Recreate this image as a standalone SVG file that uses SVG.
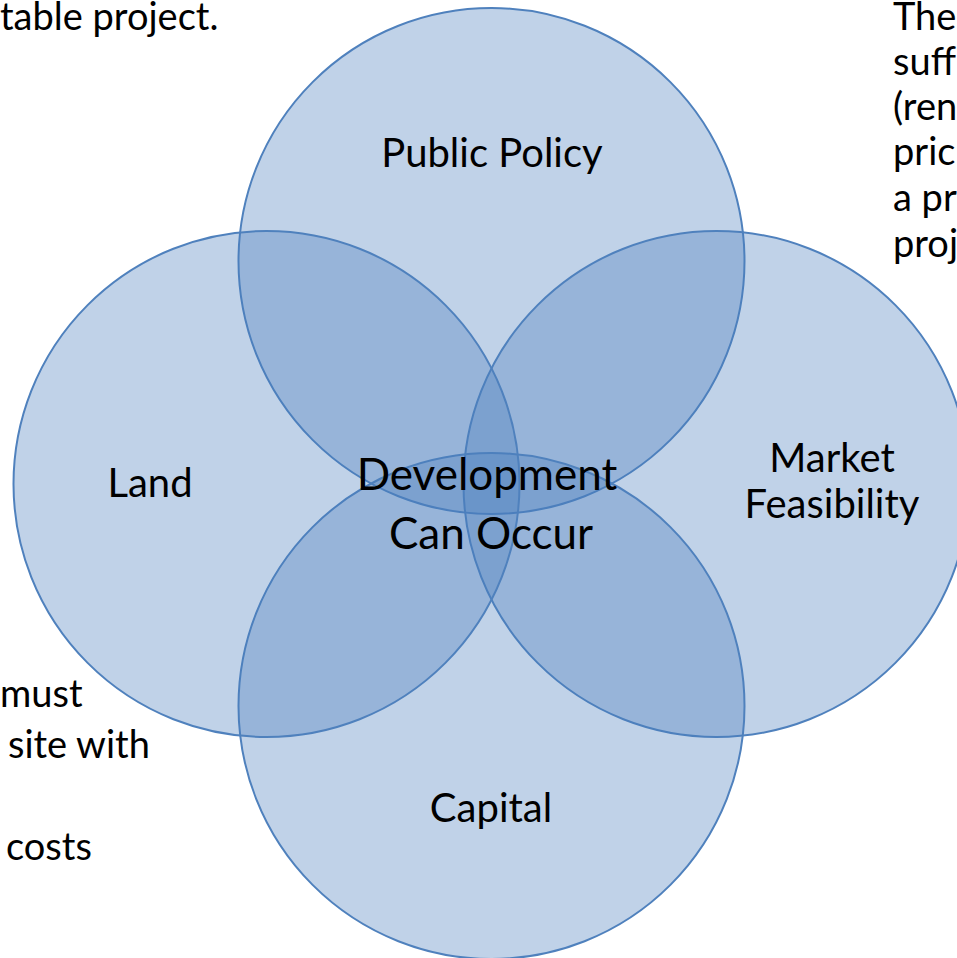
<svg xmlns="http://www.w3.org/2000/svg" width="957" height="958" viewBox="0 0 957 958">
<style>
.c{fill:rgb(75,126,189);fill-opacity:0.35;stroke:#4F81BD;stroke-width:2}
text{font-family:Lato,"Liberation Sans",sans-serif;fill:#000}
.lab{font-size:40px;text-anchor:middle}
.ctr{font-size:44px;text-anchor:middle}
.side{font-size:38px}
</style>
<rect width="957" height="958" fill="#fff"/>
<g id="side-text">
<text class="side" x="0" y="30">table project.</text>
<text class="side" x="893" y="30">The</text>
<text class="side" x="893" y="75">suff</text>
<text class="side" x="893" y="120">(ren</text>
<text class="side" x="893" y="165">pric</text>
<text class="side" x="893" y="211">a pr</text>
<text class="side" x="893" y="257">proj</text>
<text class="side" x="0" y="707">must</text>
<text class="side" x="8" y="758">site with</text>
<text class="side" x="6" y="860">costs</text>
</g>
<g id="node-public-policy">
<circle class="c" cx="491.5" cy="261" r="253"/>
</g>
<g id="node-market">
<circle class="c" cx="716.5" cy="484" r="253"/>
</g>
<g id="node-capital">
<circle class="c" cx="491.5" cy="706" r="253"/>
</g>
<g id="node-land">
<circle class="c" cx="266.5" cy="484" r="253"/>
</g>
<g id="labels">
<text class="lab" x="492" y="167">Public Policy</text>
<text class="lab" x="150" y="497">Land</text>
<text class="lab" x="832" y="472">Market</text>
<text class="lab" x="832" y="518">Feasibility</text>
<text class="lab" x="491" y="822">Capital</text>
<text class="ctr" x="487" y="490">Development</text>
<text class="ctr" x="491" y="549">Can Occur</text>
</g>
<g id="connectors"/>
</svg>
